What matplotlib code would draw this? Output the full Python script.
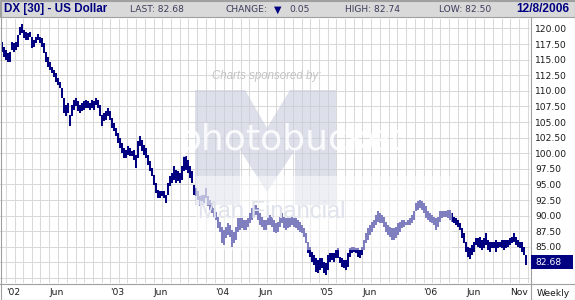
import numpy as np
import matplotlib
matplotlib.use('Agg')
import matplotlib.pyplot as plt
from matplotlib.patches import Rectangle, Polygon

# weekly high / low (first bar mid Dec 2001)
hi_02 = [117.9, 117.1, 116.6, 116.0, 116.3, 117.9, 117.6, 117.9, 119.0, 120.3,
         120.7, 119.8, 119.5, 119.2, 119.5, 118.7, 118.2, 118.7, 119.1, 118.7,
         118.4, 117.6, 116.3, 115.5, 114.7, 113.9, 113.4, 112.8, 112.0, 111.5,
         110.4, 108.8, 107.7, 108.0, 106.1, 107.7, 108.5, 108.8, 108.3, 107.7,
         108.0, 108.3, 108.5, 108.3, 108.0, 108.5, 108.3, 108.8, 108.5, 107.7,
         106.1, 106.4, 106.7, 107.2, 106.7]
lo_02 = [116.3, 115.5, 115.0, 114.7, 114.7, 116.6, 116.3, 116.6, 117.1, 119.0,
         119.2, 118.4, 118.2, 118.2, 118.7, 116.8, 117.1, 117.6, 118.2, 117.6,
         117.1, 116.0, 114.7, 113.9, 113.4, 112.8, 112.3, 111.5, 110.9, 110.4,
         108.8, 106.4, 105.9, 106.4, 104.3, 105.9, 106.9, 107.5, 106.7, 106.4,
         106.7, 106.9, 107.2, 107.2, 106.9, 107.2, 106.9, 107.7, 107.2, 105.9,
         104.3, 105.1, 105.3, 105.9, 105.3]
hi_03 = [105.6, 104.8, 104.0, 103.2, 102.4, 101.6, 100.8, 100.5, 101.1, 100.8,
         100.3, 100.5, 99.7, 101.9, 102.7, 102.1, 101.3, 100.8, 99.7, 98.7,
         97.6, 96.5, 95.2, 94.1, 93.9, 93.9, 93.9, 93.3, 95.2, 96.3,
         96.8, 97.9, 97.3, 97.1, 96.8, 97.9, 99.5, 99.5, 98.9, 97.9,
         97.1, 94.9, 94.4, 93.9, 93.1, 93.3, 93.3, 94.4, 93.1, 92.5,
         92.0, 91.2]
lo_03 = [104.0, 103.5, 102.7, 101.6, 100.8, 100.0, 99.2, 99.2, 99.7, 99.5,
         99.5, 98.9, 97.6, 99.2, 101.1, 100.3, 99.7, 99.2, 98.1, 97.1,
         96.3, 94.9, 93.6, 92.8, 92.8, 93.1, 92.8, 92.0, 93.3, 94.7,
         95.2, 95.7, 95.2, 95.5, 95.2, 95.7, 97.1, 97.3, 96.8, 96.0,
         95.2, 93.3, 93.1, 92.5, 91.5, 91.7, 92.0, 92.8, 91.5, 90.9,
         90.4, 89.8]
hi_04 = [90.6, 89.8, 89.0, 88.2, 87.7, 88.2, 88.8, 88.5, 87.7, 87.4,
         88.2, 89.6, 89.6, 89.6, 89.3, 89.3, 89.6, 90.4, 91.2, 91.7,
         91.7, 91.2, 90.4, 89.8, 89.3, 89.3, 89.8, 90.1, 89.8, 89.3,
         88.8, 89.0, 89.8, 90.4, 89.8, 89.6, 89.6, 89.6, 89.8, 89.6,
         89.6, 89.3, 89.0, 88.5, 88.0, 87.2, 85.8, 85.0, 84.2, 83.7,
         83.2, 82.9]
lo_04 = [89.3, 88.0, 87.4, 85.6, 85.3, 86.4, 86.9, 86.6, 85.0, 85.6,
         86.1, 87.4, 87.7, 88.0, 87.7, 87.7, 88.2, 88.8, 89.3, 89.8,
         90.1, 89.3, 88.5, 88.2, 87.7, 87.7, 88.5, 88.5, 88.2, 87.4,
         87.2, 87.4, 88.2, 88.8, 88.0, 87.7, 88.0, 88.2, 88.5, 88.2,
         88.0, 87.7, 87.4, 87.2, 86.6, 85.6, 84.0, 83.4, 82.6, 82.1,
         81.0, 80.8]
hi_05 = [83.2, 83.2, 82.6, 82.4, 83.7, 84.0, 84.0, 84.0, 84.5, 84.8,
         83.4, 83.2, 82.9, 82.9, 84.0, 84.8, 85.0, 85.0, 84.8, 84.8,
         84.5, 85.0, 86.1, 87.2, 88.0, 88.5, 89.0, 89.3, 90.1, 90.7,
         90.4, 90.1, 89.8, 89.0, 88.5, 88.2, 88.0, 88.0, 88.2, 88.8,
         89.0, 89.3, 89.3, 89.0, 89.3, 89.6, 90.1, 90.7, 92.0, 92.3,
         92.5, 92.3]
lo_05 = [81.3, 81.6, 80.8, 80.5, 81.3, 82.6, 82.9, 82.6, 83.2, 83.2,
         82.4, 81.8, 81.6, 81.3, 81.8, 83.4, 84.0, 84.2, 84.0, 83.4,
         83.2, 83.7, 84.5, 85.6, 86.1, 86.9, 87.4, 88.0, 88.5, 89.0,
         88.8, 88.8, 88.2, 87.4, 86.9, 86.6, 86.1, 86.1, 86.4, 86.9,
         87.4, 88.0, 88.2, 88.5, 88.5, 88.5, 88.8, 89.3, 90.7, 90.9,
         91.2, 90.9]
hi_06 = [92.0, 91.5, 90.7, 90.4, 90.1, 89.8, 89.6, 89.8, 90.7, 90.7,
         90.7, 90.7, 90.9, 90.9, 90.4, 89.8, 89.6, 89.3, 88.8, 88.0,
         87.2, 85.8, 85.0, 84.8, 85.3, 85.8, 86.4, 86.4, 86.6, 86.1,
         86.4, 87.2, 86.1, 85.8, 85.8, 85.8, 86.1, 85.8, 85.8, 86.1,
         86.1, 86.1, 86.1, 86.4, 86.6, 87.2, 86.6, 86.1, 85.8, 85.8,
         85.0, 83.7]
lo_06 = [90.4, 89.6, 89.3, 89.0, 88.8, 88.5, 87.7, 88.2, 89.0, 89.6,
         89.8, 89.8, 89.6, 89.3, 89.0, 88.8, 88.5, 88.2, 87.7, 86.4,
         85.6, 84.2, 83.4, 83.1, 83.7, 84.2, 85.3, 85.0, 84.8, 84.5,
         84.8, 85.3, 84.5, 84.2, 84.8, 84.8, 84.2, 84.8, 85.0, 84.8,
         84.5, 84.8, 85.0, 85.3, 85.6, 85.8, 85.3, 85.0, 84.8, 84.2,
         83.7, 82.1]

first_bar = np.datetime64('2001-12-16')
label_months = ['2002-01', '2002-06', '2003-01', '2003-06', '2004-01', '2004-06',
                '2005-01', '2005-06', '2006-01', '2006-06', '2006-11']
label_text = ["'02", 'Jun', "'03", 'Jun', "'04", 'Jun', "'05", 'Jun', "'06", 'Jun', 'Nov']
price_ticks = [85.0, 87.5, 90.0, 92.5, 95.0, 97.5, 100.0, 102.5, 105.0,
               107.5, 110.0, 112.5, 115.0, 117.5, 120.0]
grid_prices = [80.0, 82.5] + price_ticks

title = 'DX [30] - US Dollar'
last_price = 82.68
change = 0.05
high_price = 82.74
low_price = 82.50
as_of = '12/8/2006'

navy = '#000080'
gridc = '#d9d9d9'
linec = '#a0a0a0'

highs = np.array(hi_02 + hi_03 + hi_04 + hi_05 + hi_06)
lows = np.array(lo_02 + lo_03 + lo_04 + lo_05 + lo_06)
days = 7.0 * np.arange(len(highs))

def day_of(m):
    return float((np.datetime64(m, 'D') - first_bar) / np.timedelta64(1, 'D'))

months = np.arange('2002-01', '2007-02', dtype='datetime64[M]')
month_x = [day_of(m) for m in months]

fig = plt.figure(figsize=(5.75, 3.0), dpi=100)
ax = fig.add_axes([0, 17 / 300, 530 / 575, 264 / 300])
ax.set_xlim(-0.75 * 7, 264.25 * 7)
ax.set_ylim(79.21, 121.52)
for s in ax.spines.values():
    s.set_visible(False)

for mx in month_x:
    ax.axvline(mx, color=gridc, lw=0.75, zorder=1)
for p in grid_prices:
    ax.axhline(p, color=gridc, lw=0.75, zorder=1)

ax.vlines(days, lows, highs, color=navy, lw=1.45, zorder=3)

ax.yaxis.tick_right()
ax.set_yticks(price_ticks)
ax.set_yticklabels(['%.2f' % p for p in price_ticks])
ax.set_xticks([day_of(m) for m in label_months])
ax.set_xticklabels(label_text)
ax.tick_params(axis='both', length=0, labelsize=6.6, labelcolor='#1a1a1a')
ax.tick_params(axis='y', pad=3.8)
ax.tick_params(axis='x', pad=3.6)
for t in ax.get_xticklabels():
    t.set_ha('left')

# overlay in pixel coordinates: header, frame, watermark
ov = fig.add_axes([0, 0, 1, 1], zorder=5)
ov.set_xlim(0, 575)
ov.set_ylim(300, 0)
ov.axis('off')

# watermark
m_logo = [(195, 90), (245, 90), (267, 128), (290, 90), (336, 90), (336, 205),
          (295, 205), (295, 150), (267, 192), (240, 150), (240, 205), (195, 205)]
ov.add_patch(Polygon(m_logo, closed=True, facecolor='#c7cbdc', edgecolor='none',
                     alpha=0.6, zorder=1))
ov.add_patch(Rectangle((196, 176), 256, 74, facecolor='white', edgecolor='none',
                       alpha=0.5, zorder=1))
ov.text(267, 76, 'Charts sponsored by:', family='Liberation Sans', style='italic',
        fontsize=8.3, color='#c4c4c4', ha='center', va='center', zorder=2)
ov.text(292, 150, 'photobucket', family='DejaVu Sans', fontsize=26, color='white',
        alpha=0.85, ha='center', va='baseline', zorder=2)
ov.text(272, 212, 'Man Financial', family='Liberation Sans', fontsize=17,
        color='#e0e3ec', ha='center', va='center', zorder=2)

# header
ov.add_patch(Rectangle((0, 0), 575, 17, facecolor='#d9d9d9', edgecolor=linec, lw=0.8, zorder=3))
ov.text(4, 9, title, family='Liberation Sans', fontweight='bold', fontsize=8.4,
        color='#000080', va='center', zorder=4)
small = dict(family='DejaVu Sans', fontsize=6.6, color='#3c3c5a', va='center', zorder=4)
ov.text(130, 9.5, 'LAST: %.2f' % last_price, **small)
ov.text(226, 9.5, 'CHANGE:', **small)
ov.text(274, 9.5, '\u25bc', family='DejaVu Sans', fontsize=7, color='#000080',
        va='center', zorder=4)
ov.text(289, 9.5, '%.2f' % change, **small)
ov.text(345, 9.5, 'HIGH: %.2f' % high_price, **small)
ov.text(439, 9.5, 'LOW: %.2f' % low_price, **small)
ov.text(569, 9, as_of, family='Liberation Sans', fontweight='bold', fontsize=8.6,
        color='#000080', ha='right', va='center', zorder=4)

# axis lines, price box, footer
ov.plot([0, 575], [283.5, 283.5], color=linec, lw=0.8, zorder=3)
ov.plot([530.5, 530.5], [17, 300], color=linec, lw=0.8, zorder=3)
ov.add_patch(Rectangle((531, 255), 42, 14, facecolor='#000080', edgecolor='none', zorder=3))
ov.text(535, 262.5, '%.2f' % last_price, family='DejaVu Sans', fontsize=6.6,
        color='white', va='center', zorder=4)
ov.text(537, 293, 'Weekly', family='DejaVu Sans', fontsize=6.6, color='#1a1a1a',
        va='center', zorder=4)
ov.add_patch(Rectangle((0.5, 0.5), 574, 299, fill=False, edgecolor=linec, lw=0.8, zorder=6))

fig.savefig('out.png', dpi=100)
